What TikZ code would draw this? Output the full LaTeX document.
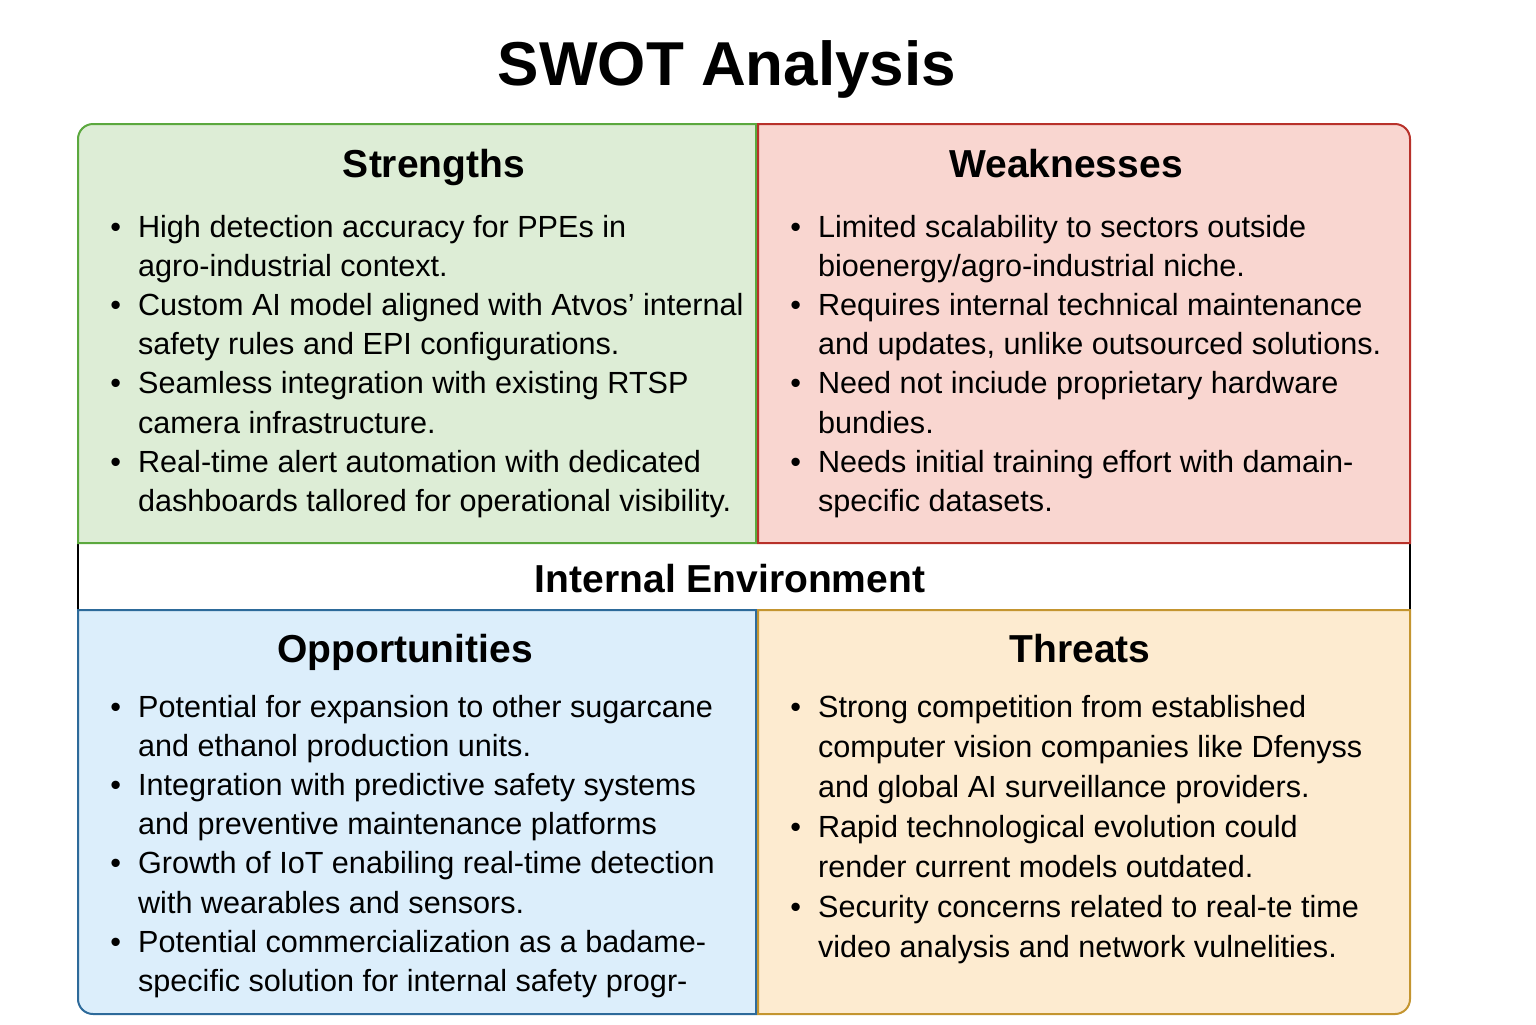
\documentclass[tikz,border=0pt]{standalone}
\usepackage{fontspec}
\setmainfont{Liberation Sans}
\usepackage{xcolor}
\usetikzlibrary{positioning}
\definecolor{swotgreen}{HTML}{5BA83E}
\definecolor{swotgreenbg}{HTML}{DDEDD6}
\definecolor{swotred}{HTML}{B8312A}
\definecolor{swotredbg}{HTML}{F9D6D0}
\definecolor{swotblue}{HTML}{2D6A9A}
\definecolor{swotbluebg}{HTML}{DCEEFB}
\definecolor{swotgold}{HTML}{C49530}
\definecolor{swotgoldbg}{HTML}{FDEBD0}
\newcommand{\bu}{\textbullet}
\newenvironment{swotlist}{\begin{tabular}[t]{@{}l@{\hspace{8.5pt}}l@{}}}{\end{tabular}}

\begin{document}
\begin{tikzpicture}[x=0.5pt, y=-0.5pt,
  quad/.style={line width=1pt},
  ttl/.style={font=\fontsize{31}{36}\selectfont\bfseries, inner sep=0, anchor=base},
  hd/.style={font=\fontsize{19.5}{23}\selectfont\bfseries, inner sep=0, anchor=base},
  lst/.style={font=\fontsize{15.3}{19.6}\selectfont, inner sep=0, anchor=base west, align=left}]
\useasboundingbox (0,0) rectangle (1536,1024);
\draw[quad, black] (78,543) rectangle (1410,610);
\draw[quad, draw=swotgreen, fill=swotgreenbg] (756,543) -- (78,543) -- (78,139)
  arc[start angle=180, end angle=270, radius=15] -- (756,124) -- cycle;
\draw[quad, draw=swotred, fill=swotredbg] (758,124) -- (1395,124)
  arc[start angle=270, end angle=360, radius=15] -- (1410,543) -- (758,543) -- cycle;
\draw[quad, draw=swotblue, fill=swotbluebg] (756,610) -- (78,610) -- (78,999)
  arc[start angle=180, end angle=90, radius=15] -- (756,1014) -- cycle;
\draw[quad, draw=swotgold, fill=swotgoldbg] (758,610) -- (1410,610) -- (1410,999)
  arc[start angle=0, end angle=90, radius=15] -- (758,1014) -- cycle;

\node[ttl] (title) at (727,85) {SWOT Analysis};
\node[hd] (s-hd) at (434,177) {Strengths};
\node[hd] (w-hd) at (1066,177) {Weaknesses};
\node[hd] (env) at (730,592) {Internal Environment};
\node[hd] (o-hd) at (405,662) {Opportunities};
\node[hd] (t-hd) at (1080,662) {Threats};

\node[lst] (s-lst) at (110,237) {\begin{swotlist}
\bu & High detection accuracy for PPEs in \\
    & agro-industrial context. \\
\bu & Custom AI model aligned with Atvos’ internal \\
    & safety rules and EPI configurations. \\
\bu & Seamless integration with existing RTSP \\
    & camera infrastructure. \\
\bu & Real-time alert automation with dedicated \\
    & dashboards tallored for operational visibility.
\end{swotlist}};
\node[lst] (w-lst) at (790,237) {\begin{swotlist}
\bu & Limited scalability to sectors outside \\
    & bioenergy/agro-industrial niche. \\
\bu & Requires internal technical maintenance \\
    & and updates, unlike outsourced solutions. \\
\bu & Need not inciude proprietary hardware \\
    & bundies. \\
\bu & Needs initial training effort with damain- \\
    & specific datasets.
\end{swotlist}};
\node[lst] (o-lst) at (110,717) {\begin{swotlist}
\bu & Potential for expansion to other sugarcane \\
    & and ethanol production units. \\
\bu & Integration with predictive safety systems \\
    & and preventive maintenance platforms \\
\bu & Growth of IoT enabiling real-time detection \\
    & with wearables and sensors. \\
\bu & Potential commercialization as a badame- \\
    & specific solution for internal safety progr-
\end{swotlist}};
\node[lst, font=\fontsize{15.3}{20}\selectfont] (t-lst) at (790,717) {\begin{swotlist}
\bu & Strong competition from established \\
    & computer vision companies like Dfenyss \\
    & and global AI surveillance providers. \\
\bu & Rapid technological evolution could \\
    & render current models outdated. \\
\bu & Security concerns related to real-te time \\
    & video analysis and network vulnelities.
\end{swotlist}};
\end{tikzpicture}
\end{document}
